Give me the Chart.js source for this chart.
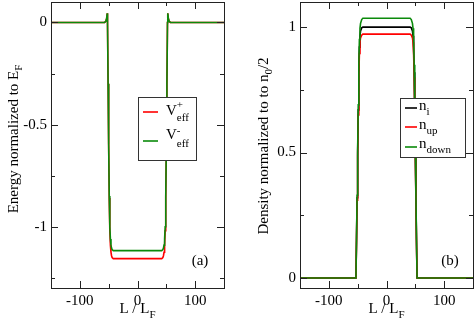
<!DOCTYPE html>
<html>
<head>
<meta charset="utf-8">
<script src="https://cdn.jsdelivr.net/npm/chart.js@4/dist/chart.umd.min.js"></script>
<style>
  html, body { margin: 0; padding: 0; background: #fff; }
  #wrap { position: relative; width: 475px; height: 327px; }
  #chartA { position: absolute; left: 0; top: 0; }
  #chartB { position: absolute; left: 237px; top: 0; }
</style>
</head>
<body>
<div id="wrap">
  <canvas id="chartA" width="237" height="327"></canvas>
  <canvas id="chartB" width="238" height="327"></canvas>
</div>
<script>
// panel (a): effective potentials
const xPot = [-150, -57, -55, -53.5, -52.5, -52, -51, -50, -49, -48, -47, -46, -45, -44, -42,
  42, 44, 45, 46, 47, 48, 49, 50, 51, 52, 52.5, 53.5, 55, 57, 150];
const vPlus = [0, 0, 0.005, 0.02, 0.045, 0, -0.3, -0.6, -0.86, -1.02, -1.09, -1.125, -1.142, -1.151, -1.156,
  -1.156, -1.151, -1.142, -1.125, -1.09, -1.02, -0.86, -0.6, -0.3, 0, 0.045, 0.02, 0.005, 0, 0];
const vMinus = [0, 0, 0.005, 0.02, 0.045, 0, -0.3, -0.6, -0.85, -1.0, -1.06, -1.09, -1.105, -1.112, -1.117,
  -1.117, -1.112, -1.105, -1.09, -1.06, -1.0, -0.85, -0.6, -0.3, 0, 0.045, 0.02, 0.005, 0, 0];

// panel (b): densities
const xDen = [-150, -53, -52, -51, -50, -49, -48, -47, -46, -45, -43, -41,
  41, 43, 45, 46, 47, 48, 49, 50, 51, 52, 53, 150];
const nI = [0, 0, 0.15, 0.32, 0.5, 0.67, 0.82, 0.92, 0.965, 0.985, 0.997, 1.0,
  1.0, 0.997, 0.985, 0.965, 0.92, 0.82, 0.67, 0.5, 0.32, 0.15, 0, 0];
const nUp = [0, 0, 0.145, 0.31, 0.485, 0.65, 0.8, 0.895, 0.94, 0.957, 0.968, 0.972,
  0.972, 0.968, 0.957, 0.94, 0.895, 0.8, 0.65, 0.485, 0.31, 0.145, 0, 0];
const nDown = [0, 0, 0.155, 0.33, 0.515, 0.69, 0.85, 0.95, 0.995, 1.015, 1.03, 1.035,
  1.035, 1.03, 1.015, 0.995, 0.95, 0.85, 0.69, 0.515, 0.33, 0.155, 0, 0];

const xTickLabels = [-100, 0, 100];
const yTickLabelsA = [0, -0.5, -1];
const yTickLabelsB = [0, 0.5, 1];

const FONT = '"Liberation Serif", "Times New Roman", serif';
const RED = "#ff0000";
const GREEN = "#0b8a0b";
const FRAME = "#222";

function points(xs, ys) {
  return xs.map((x, i) => ({ x: x, y: ys[i] }));
}

// order: lower number is drawn on top
function line(label, xs, ys, color, order) {
  return {
    label: label,
    data: points(xs, ys),
    borderColor: color,
    borderWidth: 1.6,
    pointRadius: 0,
    tension: 0,
    order: order,
  };
}

// draws text pieces one after another; a piece with keep:true does not advance x
function rich(ctx, x, y, parts) {
  parts.forEach((p) => {
    ctx.font = p.s + "px " + FONT;
    ctx.fillText(p.t, x, y + (p.dy || 0));
    if (!p.keep) x += ctx.measureText(p.t).width;
  });
}

function richWidth(ctx, parts) {
  let w = 0;
  parts.forEach((p) => {
    ctx.font = p.s + "px " + FONT;
    if (!p.keep) w += ctx.measureText(p.t).width;
  });
  return w;
}

const framePlugin = {
  id: "frame",
  afterDatasetsDraw(chart) {
    const ctx = chart.ctx;
    const a = chart.chartArea;
    const xs = chart.scales.x;
    const ys = chart.scales.y;
    ctx.save();
    ctx.strokeStyle = FRAME;
    ctx.lineWidth = 1;
    ctx.strokeRect(Math.round(a.left) + 0.5, Math.round(a.top) + 0.5,
      Math.round(a.right - a.left), Math.round(a.bottom - a.top));
    ctx.beginPath();
    xs.ticks.forEach((t) => {
      const len = xTickLabels.includes(t.value) ? 7 : 4;
      const px = Math.round(xs.getPixelForValue(t.value)) + 0.5;
      ctx.moveTo(px, a.bottom);
      ctx.lineTo(px, a.bottom - len);
      ctx.moveTo(px, a.top);
      ctx.lineTo(px, a.top + len);
    });
    const major = chart.options.plugins.frame.yMajor;
    ys.ticks.forEach((t) => {
      const v = Math.round(t.value * 1000) / 1000;
      const len = major.includes(v) ? 7 : 4;
      const py = Math.round(ys.getPixelForValue(t.value)) + 0.5;
      ctx.moveTo(a.left, py);
      ctx.lineTo(a.left + len, py);
      ctx.moveTo(a.right, py);
      ctx.lineTo(a.right - len, py);
    });
    ctx.stroke();
    ctx.restore();
  },
  afterDraw(chart) {
    const o = chart.options.plugins.frame;
    const ctx = chart.ctx;
    ctx.save();
    ctx.fillStyle = "#000";
    ctx.textBaseline = "alphabetic";
    ctx.textAlign = "left";

    // x title
    const xt = [{ t: "L / L", s: 15 }, { t: "F", s: 11, dy: 5 }];
    const cx = (chart.chartArea.left + chart.chartArea.right) / 2;
    rich(ctx, cx - richWidth(ctx, xt) / 2, 313, xt);

    // y title, rotated
    ctx.save();
    ctx.translate(o.yTitleX, o.yTitleY);
    ctx.rotate(-Math.PI / 2);
    rich(ctx, -richWidth(ctx, o.yTitle) / 2, 0, o.yTitle);
    ctx.restore();

    // panel tag
    ctx.font = "15px " + FONT;
    ctx.textAlign = "center";
    ctx.fillText(o.tag, o.tagX, 265);
    ctx.textAlign = "left";

    // legend box
    const lb = o.legendBox;
    ctx.fillStyle = "#fff";
    ctx.fillRect(lb[0], lb[1], lb[2], lb[3]);
    ctx.strokeStyle = "#333";
    ctx.lineWidth = 1;
    ctx.strokeRect(lb[0] + 0.5, lb[1] + 0.5, lb[2], lb[3]);
    o.legend.forEach((e) => {
      ctx.strokeStyle = e.color;
      ctx.lineWidth = 1.6;
      ctx.beginPath();
      ctx.moveTo(e.x0, e.ly);
      ctx.lineTo(e.x1, e.ly);
      ctx.stroke();
      ctx.fillStyle = "#000";
      rich(ctx, e.tx, e.ty, e.parts);
    });
    ctx.restore();
  },
};

function makeChart(id, datasets, cfg) {
  return new Chart(document.getElementById(id), {
    type: "line",
    data: { datasets: datasets },
    plugins: [framePlugin],
    options: {
      responsive: false,
      animation: false,
      layout: { padding: { top: 2, right: cfg.padRight, left: 0, bottom: 0 } },
      scales: {
        x: {
          type: "linear",
          min: -150,
          max: 150,
          grid: { display: false, drawTicks: false },
          border: { display: false },
          ticks: {
            stepSize: 50,
            includeBounds: false,
            autoSkip: false,
            maxRotation: 0,
            padding: 4,
            color: "#000",
            font: { family: FONT, size: 15 },
            callback: (v) => (xTickLabels.includes(v) ? String(v) : ""),
          },
          afterFit: (s) => {
            s.height = 39;
            s.paddingLeft = 0;
            s.paddingRight = 0;
          },
        },
        y: {
          type: "linear",
          min: cfg.yMin,
          max: cfg.yMax,
          grid: { display: false, drawTicks: false },
          border: { display: false },
          ticks: {
            stepSize: 0.25,
            includeBounds: false,
            autoSkip: false,
            padding: 4,
            color: "#000",
            font: { family: FONT, size: 15 },
            callback: (v) => {
              const r = Math.round(v * 1000) / 1000;
              return cfg.yMajor.includes(r) ? String(r) : "";
            },
          },
          afterFit: (s) => {
            s.width = cfg.yWidth;
            s.paddingTop = 0;
            s.paddingBottom = 0;
          },
        },
      },
      plugins: {
        legend: { display: false },
        tooltip: { enabled: false },
        frame: {
          yMajor: cfg.yMajor,
          yTitle: cfg.yTitle,
          yTitleX: cfg.yTitleX,
          yTitleY: cfg.yTitleY,
          tag: cfg.tag,
          tagX: cfg.tagX,
          legendBox: cfg.legendBox,
          legend: cfg.legend,
        },
      },
    },
  });
}

makeChart("chartA", [
  line("V+", xPot, vPlus, RED, 1),
  line("V-", xPot, vMinus, GREEN, 0),
], {
  yMin: -1.3, yMax: 0.1, yMajor: yTickLabelsA, yWidth: 51, padRight: 13,
  yTitle: [{ t: "Energy normalized to E", s: 15 }, { t: "F", s: 11, dy: 4 }],
  yTitleX: 18, yTitleY: 139,
  tag: "(a)", tagX: 200,
  legendBox: [138, 97, 58, 63],
  legend: [
    { color: RED, x0: 143, x1: 158, ly: 112, tx: 166, ty: 115,
      parts: [{ t: "V", s: 15 }, { t: "+", s: 11, dy: -7, keep: true }, { t: "eff", s: 11, dy: 6 }] },
    { color: GREEN, x0: 143, x1: 158, ly: 141, tx: 166, ty: 139,
      parts: [{ t: "V", s: 15 }, { t: "-", s: 11, dy: -5, keep: true }, { t: "eff", s: 11, dy: 8 }] },
  ],
});

makeChart("chartB", [
  line("n_i", xDen, nI, "#000", 2),
  line("n_up", xDen, nUp, RED, 1),
  line("n_down", xDen, nDown, GREEN, 0),
], {
  yMin: -0.04, yMax: 1.1, yMajor: yTickLabelsB, yWidth: 63, padRight: 2,
  yTitle: [{ t: "Density normalized to to n", s: 15 }, { t: "0", s: 11, dy: 4 }, { t: "/2", s: 15 }],
  yTitleX: 31, yTitleY: 146,
  tag: "(b)", tagX: 213,
  legendBox: [163, 98, 65, 59],
  legend: [
    { color: "#000", x0: 168, x1: 180, ly: 108, tx: 182, ty: 110,
      parts: [{ t: "n", s: 15 }, { t: "i", s: 11, dy: 5 }] },
    { color: RED, x0: 168, x1: 180, ly: 127, tx: 182, ty: 129,
      parts: [{ t: "n", s: 15 }, { t: "up", s: 11, dy: 5 }] },
    { color: GREEN, x0: 168, x1: 180, ly: 147, tx: 182, ty: 148,
      parts: [{ t: "n", s: 15 }, { t: "down", s: 11, dy: 5 }] },
  ],
});
</script>
</body>
</html>
